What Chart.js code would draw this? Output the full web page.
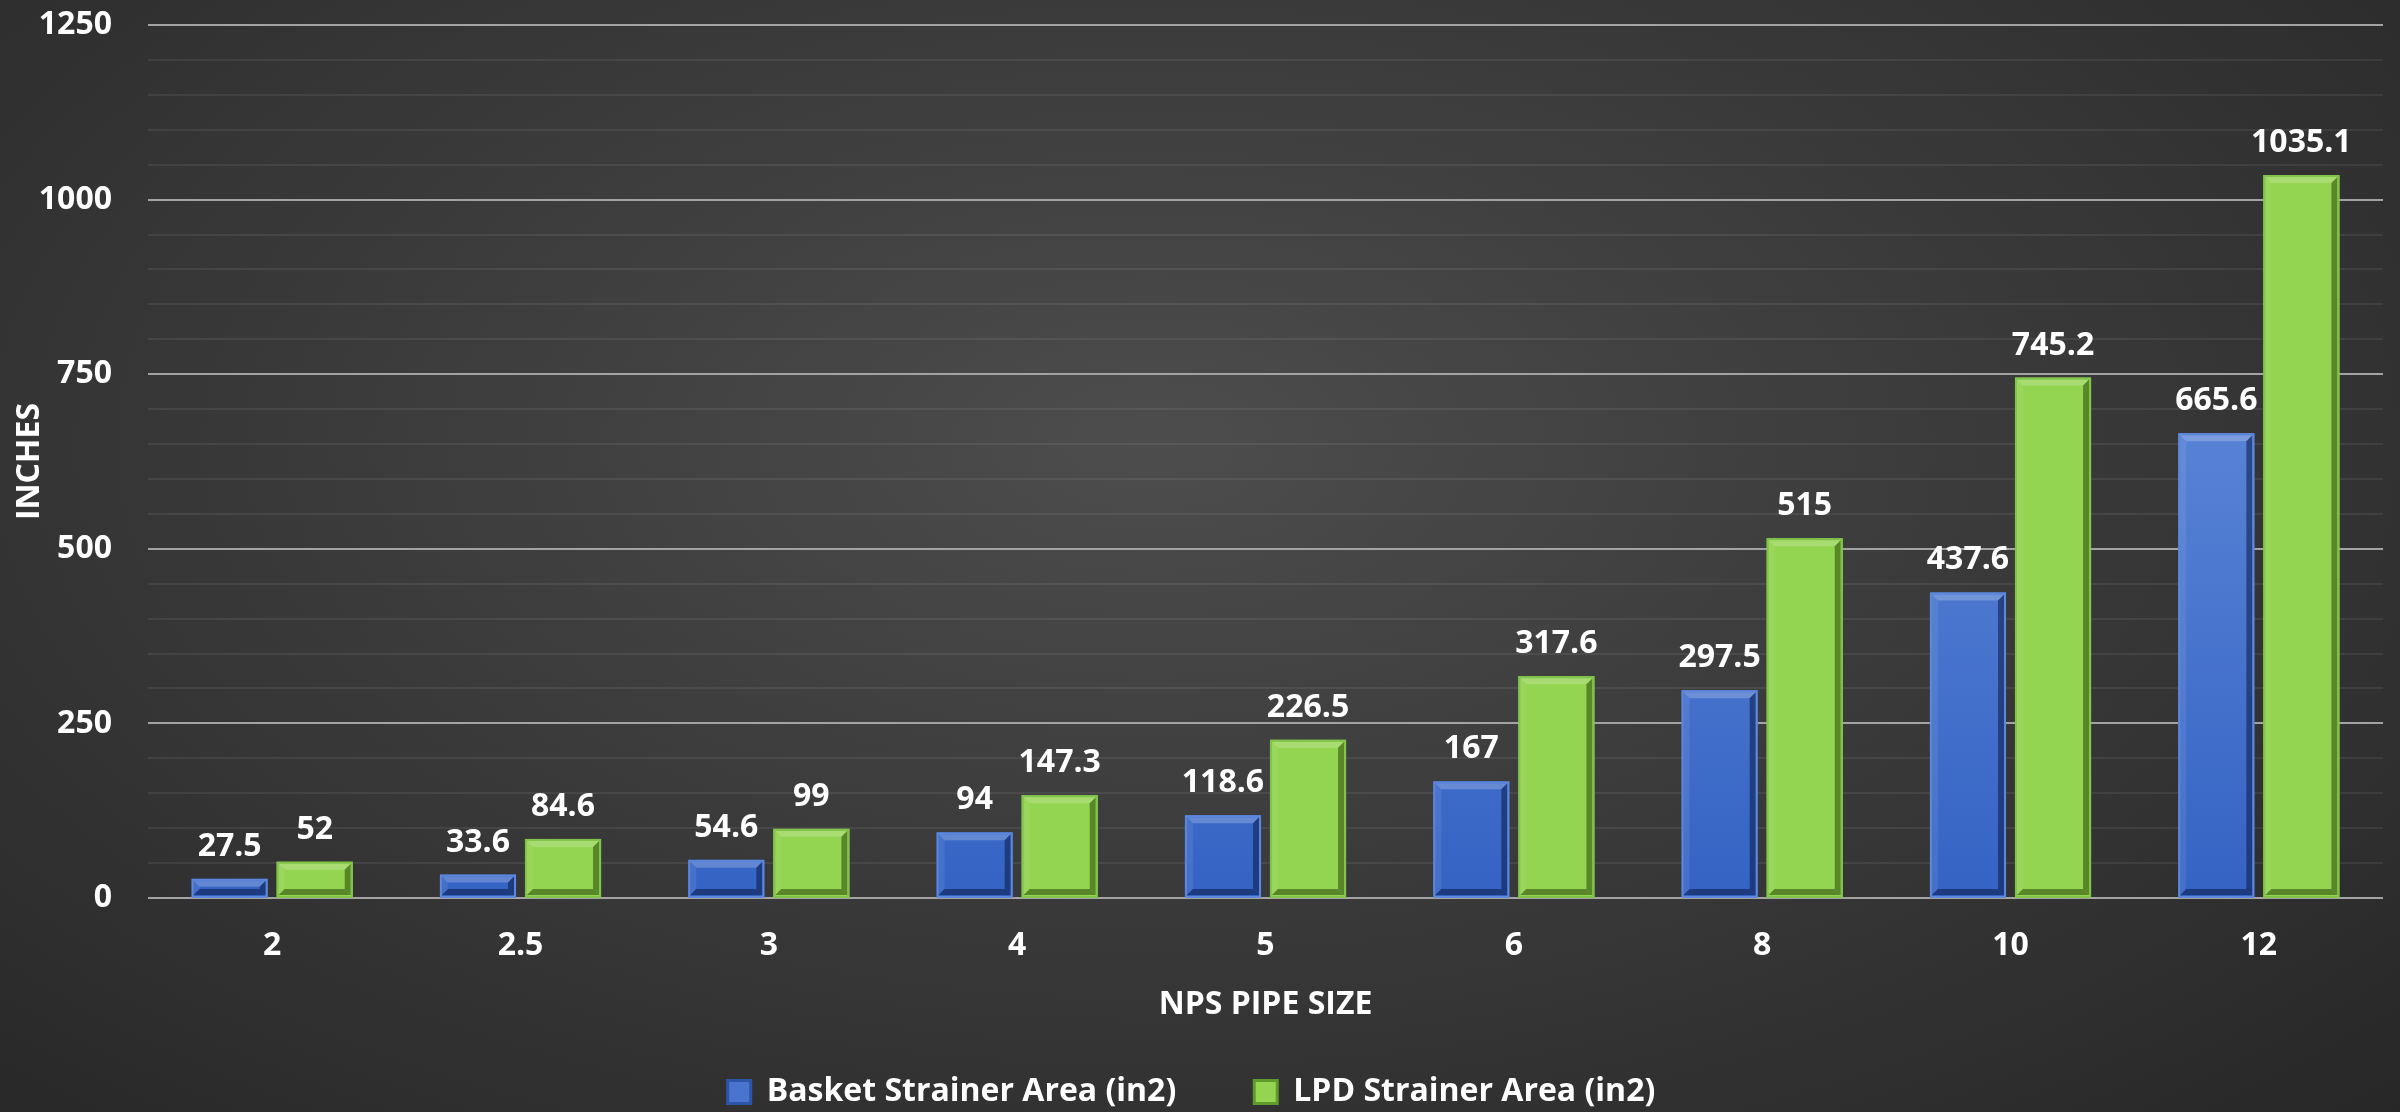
<!DOCTYPE html>
<html>
<head>
<meta charset="utf-8">
<title>Basket vs LPD Strainer Area</title>
<script src="https://cdn.jsdelivr.net/npm/chart.js@4.4.1/dist/chart.umd.min.js"></script>
<style>
    html, body {
        margin: 0;
        padding: 0;
        overflow: hidden;
    }
    body {
        width: 2400px;
        height: 1112px;
        background: radial-gradient(ellipse farthest-corner at 48% 40%, #4d4d4d 0%, #3b3b3b 45%, #272727 100%);
    }
    #chart-wrap {
        position: relative;
        width: 2400px;
        height: 1112px;
    }
</style>
</head>
<body>
<div id="chart-wrap">
    <canvas id="strainer-chart"></canvas>
</div>
<script>
// data
var pipeSizes = ['2', '2.5', '3', '4', '5', '6', '8', '10', '12'];
var basketArea = [27.5, 33.6, 54.6, 94, 118.6, 167, 297.5, 437.6, 665.6];
var lpdArea = [52, 84.6, 99, 147.3, 226.5, 317.6, 515, 745.2, 1035.1];
var yTickLabels = [0, 250, 500, 750, 1000, 1250];

var FONT = "'Open Sans', 'DejaVu Sans', sans-serif";

// blue fill gets a soft top-to-bottom gradient like the reference
function blueFill(context) {
    var chart = context.chart;
    var area = chart.chartArea;
    if (!area) return '#4a75cf';
    var g = chart.ctx.createLinearGradient(0, area.top, 0, area.bottom);
    g.addColorStop(0, '#7094dd');
    g.addColorStop(0.5, '#5580d4');
    g.addColorStop(1, '#3563c4');
    return g;
}

// bevelled edges on each bar (Excel "bevel" look)
var bevelPlugin = {
    id: 'bevel',
    afterDatasetsDraw: function (chart) {
        var ctx = chart.ctx;
        var styles = [
            { edge: '#5d88dc', light: 'rgba(255,255,255,0.22)', side: 'rgba(255,255,255,0.08)', dark: 'rgba(10,25,70,0.55)' },
            { edge: '#80c44a', light: 'rgba(255,255,255,0.20)', side: 'rgba(255,255,255,0.06)', dark: 'rgba(40,70,10,0.55)' }
        ];
        chart.data.datasets.forEach(function (ds, di) {
            var meta = chart.getDatasetMeta(di);
            var st = styles[di];
            meta.data.forEach(function (bar) {
                var p = bar.getProps(['x', 'y', 'base', 'width'], true);
                var x0 = p.x - p.width / 2, x1 = p.x + p.width / 2;
                var y0 = p.y, y1 = p.base;
                var o = 2, b = 6;
                var ix0 = x0 + o, ix1 = x1 - o, iy0 = y0 + o, iy1 = y1 - o;
                if (iy1 - iy0 < 2 * b) b = Math.max(2, (iy1 - iy0) / 2 - 1);
                ctx.save();
                // top
                ctx.fillStyle = st.light;
                ctx.beginPath();
                ctx.moveTo(ix0, iy0); ctx.lineTo(ix1, iy0); ctx.lineTo(ix1 - b, iy0 + b); ctx.lineTo(ix0 + b, iy0 + b);
                ctx.closePath(); ctx.fill();
                // left
                ctx.fillStyle = st.side;
                ctx.beginPath();
                ctx.moveTo(ix0, iy0); ctx.lineTo(ix0 + b, iy0 + b); ctx.lineTo(ix0 + b, iy1 - b); ctx.lineTo(ix0, iy1);
                ctx.closePath(); ctx.fill();
                // right + bottom
                ctx.fillStyle = st.dark;
                ctx.beginPath();
                ctx.moveTo(ix1, iy0); ctx.lineTo(ix1, iy1); ctx.lineTo(ix1 - b, iy1 - b); ctx.lineTo(ix1 - b, iy0 + b);
                ctx.closePath(); ctx.fill();
                ctx.beginPath();
                ctx.moveTo(ix0, iy1); ctx.lineTo(ix1, iy1); ctx.lineTo(ix1 - b, iy1 - b); ctx.lineTo(ix0 + b, iy1 - b);
                ctx.closePath(); ctx.fill();
                // outer rim
                ctx.strokeStyle = st.edge;
                ctx.lineWidth = 2;
                ctx.strokeRect(x0 + 1, y0 + 1, p.width - 2, y1 - y0 - 1);
                ctx.restore();
            });
        });
    }
};

// value labels above the bars
var valueLabelPlugin = {
    id: 'valueLabels',
    afterDatasetsDraw: function (chart) {
        var ctx = chart.ctx;
        ctx.save();
        ctx.fillStyle = '#ffffff';
        ctx.font = 'bold 32px ' + FONT;
        ctx.textAlign = 'center';
        ctx.textBaseline = 'alphabetic';
        chart.data.datasets.forEach(function (ds, di) {
            chart.getDatasetMeta(di).data.forEach(function (bar, i) {
                ctx.fillText(String(ds.data[i]), bar.x, bar.y - 23);
            });
        });
        ctx.restore();
    }
};

var ctx = document.getElementById('strainer-chart').getContext('2d');
var strainerChart = new Chart(ctx, {
    type: 'bar',
    data: {
        labels: pipeSizes,
        datasets: [{
            label: 'Basket Strainer Area (in2)',
            data: basketArea,
            backgroundColor: blueFill,
            borderWidth: 0
        }, {
            label: 'LPD Strainer Area (in2)',
            data: lpdArea,
            backgroundColor: '#93d451',
            borderWidth: 0
        }]
    },
    plugins: [bevelPlugin, valueLabelPlugin],
    options: {
        responsive: true,
        maintainAspectRatio: false,
        animation: false,
        events: [],
        layout: {
            padding: { top: 0, right: 17, bottom: -6, left: 0 }
        },
        datasets: {
            bar: {
                categoryPercentage: 0.685,
                barPercentage: 0.895
            }
        },
        plugins: {
            tooltip: { enabled: false },
            legend: {
                position: 'bottom',
                labels: {
                    color: '#ffffff',
                    font: { family: FONT, size: 32, weight: 'bold' },
                    boxWidth: 23,
                    boxHeight: 23,
                    padding: 78,
                    generateLabels: function (chart) {
                        var fills = ['#4a75cf', '#93d451'];
                        var rims = ['#2d55a8', '#5f9a2c'];
                        return chart.data.datasets.map(function (ds, i) {
                            return {
                                text: ds.label,
                                fillStyle: fills[i],
                                strokeStyle: rims[i],
                                lineWidth: 3,
                                fontColor: '#ffffff',
                                datasetIndex: i
                            };
                        });
                    }
                }
            }
        },
        scales: {
            x: {
                grid: { display: false, drawTicks: false },
                border: { display: false },
                ticks: {
                    color: '#ffffff',
                    padding: 29,
                    font: { family: FONT, size: 32, weight: 'bold' }
                },
                title: {
                    display: true,
                    text: 'NPS PIPE SIZE',
                    color: '#ffffff',
                    font: { family: FONT, size: 32, weight: 'bold' },
                    padding: { top: 19, bottom: -26 }
                },
                afterFit: function (scale) { scale.height = 100; }
            },
            y: {
                min: 0,
                max: yTickLabels[yTickLabels.length - 1],
                border: { display: false },
                grid: {
                    drawTicks: false,
                    lineWidth: 2,
                    color: function (c) {
                        return yTickLabels.indexOf(c.tick.value) >= 0 ? '#a3a3a3' : 'rgba(255,255,255,0.07)';
                    }
                },
                ticks: {
                    stepSize: 50,
                    autoSkip: false,
                    color: '#ffffff',
                    padding: 36,
                    font: { family: FONT, size: 32, weight: 'bold' },
                    callback: function (v) {
                        return yTickLabels.indexOf(v) >= 0 ? v : '';
                    }
                },
                title: {
                    display: true,
                    text: 'INCHES',
                    color: '#ffffff',
                    font: { family: FONT, size: 32, weight: 'bold' },
                    padding: { top: 11, bottom: 0 }
                },
                afterFit: function (scale) {
                    scale.width = 148;
                    scale.paddingTop = 25;
                }
            }
        }
    }
});
</script>
</body>
</html>
